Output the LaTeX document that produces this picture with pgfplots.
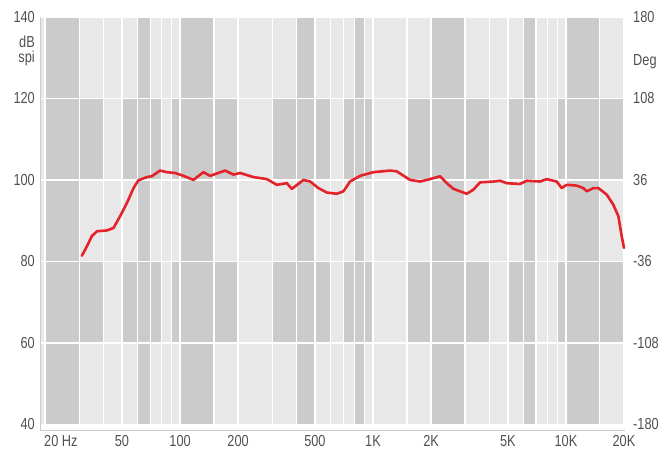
\documentclass[border=0pt]{standalone}
\usepackage{pgfplots}
\usepackage{pgfplotstable}
\pgfplotsset{compat=1.18}
\usepackage{fontspec}
\setmainfont{Liberation Sans}[FakeStretch=0.8]

\definecolor{bglight}{HTML}{E8E8E8}
\definecolor{bgdark}{HTML}{CBCBCB}
\definecolor{labelgray}{HTML}{505050}
\definecolor{curvered}{HTML}{E4222A}
\definecolor{axisgray}{HTML}{C9CEC4}

% one grey block of the chart background: f1 f2 dB1 dB2
\newcommand{\blk}[5][bgdark]{%
  \addplot[on layer=axis background, fill=#1, draw=none, forget plot]
    coordinates {(#2,#4) (#3,#4) (#3,#5) (#2,#5)} -- cycle;}
% blocks only in the 100-120 and 60-80 dB bands
\newcommand{\rowblk}[2]{\blk{#1}{#2}{100}{120}\blk{#1}{#2}{60}{80}}

\newcommand{\lblfont}{\fontsize{16}{16}\selectfont}

% frequency response
\pgfplotstableread{
f db
31.0 81.4
32.9 83.7
34.9 86.2
37.1 87.4
41.8 87.6
45.2 88.2
48.9 91.1
53.0 94.3
57.4 98.0
60.8 99.9
67.3 100.7
71.4 100.9
78.8 102.3
85.4 101.9
94.3 101.7
104.2 101.0
117.3 100.0
132.1 101.9
143.2 101.0
171.3 102.3
189.1 101.3
204.8 101.7
240.1 100.7
281.6 100.2
317.5 98.8
357.5 99.2
379.7 97.8
436.0 100.0
472.3 99.6
521.4 98.0
576.7 96.9
648.9 96.6
702.8 97.2
760.5 99.6
857.4 101.0
1005 101.9
1227 102.3
1328 102.1
1557 100.0
1754 99.6
1977 100.2
2229 100.9
2412 99.2
2612 97.8
3063 96.6
3315 97.6
3589 99.4
4207 99.6
4556 99.8
4934 99.2
5783 99.0
6263 99.8
7337 99.6
7945 100.2
8955 99.6
9507 98.0
10090 98.8
11370 98.6
12310 98.0
12820 97.2
13880 98.0
14730 98.0
16270 96.4
17610 93.9
18700 91.1
19460 86.2
20000 83.3
}\response

\begin{document}
\begin{tikzpicture}
\begin{axis}[
  set layers=standard,
  scale only axis, width=585bp, height=413bp,
  xmode=log, xmin=18.8, xmax=20240,
  ymin=38.6, ymax=140,
  clip=false,
  axis x line*=bottom, axis y line*=left,
  axis line style={draw=axisgray, line width=0.8bp, -},
  xtick={20,50,100,200,500,1000,2000,5000,10000,20000},
  xticklabels={\hspace*{-2bp}\rlap{20 Hz},50,100,200,500,1K,2K,5K,10K,20K},
  minor xtick={30,40,60,70,80,90,150,300,400,600,700,800,900,1500,3000,4000,6000,7000,8000,9000,15000},
  ytick={40,60,80,100,120,140},
  yticklabels={40,60,80,100,120,140},
  major tick length=0pt, minor tick length=0pt,
  grid=both,
  major grid style={white, line width=1.4bp},
  minor grid style={white, line width=1.1bp},
  tick label style={font=\lblfont, text=labelgray, inner sep=0pt},
  xticklabel style={anchor=north, yshift=-5bp},
  yticklabel style={anchor=east, xshift=-5bp},
]
% background
\blk[bglight]{18.8}{20240}{40}{140}
% full-height dark columns
\blk{20}{30}{40}{140}
\blk{60}{70}{40}{140}
\blk{100}{150}{40}{140}
\blk{400}{500}{40}{140}
\blk{800}{900}{40}{140}
\blk{2000}{3000}{40}{140}
\blk{6000}{7000}{40}{140}
\blk{10000}{15000}{40}{140}
% dark blocks in the second and fourth bands
\rowblk{30}{40}
\rowblk{50}{60}
\rowblk{70}{80}
\rowblk{90}{100}
\rowblk{150}{200}
\rowblk{300}{400}
\rowblk{500}{600}
\rowblk{700}{1000}
\rowblk{1500}{2000}
\rowblk{3000}{4000}
\rowblk{5000}{6000}
\rowblk{9000}{10000}
\rowblk{15000}{20240}

\addplot[curvered, line width=2.6bp, line join=round, line cap=round]
  table[x=f, y=db] {\response};

\node[anchor=east, align=right, inner sep=0pt, xshift=-5bp, font=\lblfont, text=labelgray]
  at (rel axis cs:0,0.918) {dB\\spi};
\end{axis}

% right-hand phase scale
\begin{axis}[
  scale only axis, width=585bp, height=413bp,
  xmin=0, xmax=1, ymin=-185.04, ymax=180,
  hide x axis, axis y line*=right,
  y axis line style={draw=none},
  ytick={-180,-108,-36,36,108,180},
  yticklabels={-180,-108,-36,36,108,180},
  major tick length=0pt,
  yticklabel style={font=\lblfont, text=labelgray, inner sep=0pt, anchor=west, xshift=8bp},
  clip=false,
]
\node[anchor=west, inner sep=0pt, xshift=8bp, font=\lblfont, text=labelgray]
  at (rel axis cs:1,0.891) {Deg};
\end{axis}

\pgfresetboundingbox
\path (current axis.south west) ++(-40bp,-28bp) rectangle ++(665bp,458bp);
\end{tikzpicture}
\end{document}
